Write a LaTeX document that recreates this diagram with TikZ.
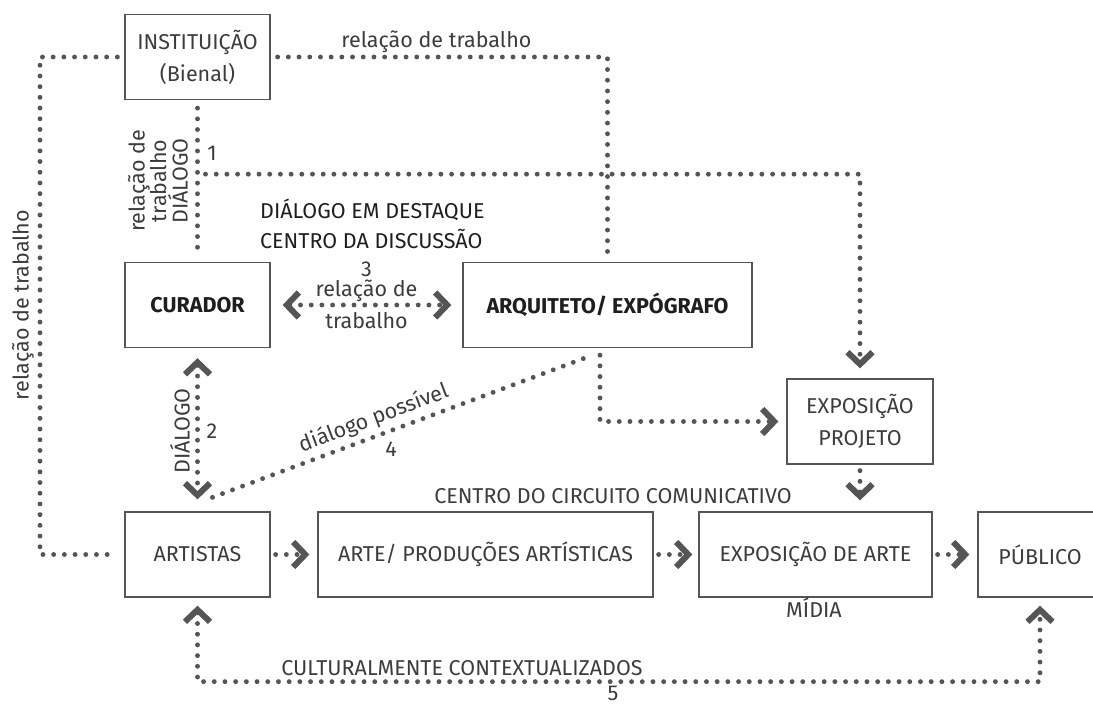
\documentclass[tikz,border=0pt]{standalone}
\usepackage{fontspec}
\setmainfont{Fira Sans}
\usetikzlibrary{arrows.meta, calc, positioning}
\definecolor{linegrey}{HTML}{555555}
\definecolor{textgrey}{HTML}{3C3C3C}
\definecolor{darkgrey}{HTML}{1E1E1E}

\begin{document}
\begin{tikzpicture}[x=1pt, y=-1pt, >={Straight Barb[length=12pt,width=25pt,line width=6pt]}]
        \tikzstyle{box}=[draw=linegrey, line width=1.3pt, minimum height=85pt, inner sep=0pt, text=textgrey, align=center, font=\fontsize{21.5}{32}\selectfont]
        \tikzstyle{boldbox}=[box, text=darkgrey, font=\fontsize{21.5}{24}\selectfont\bfseries]
        \tikzstyle{lbl}=[inner sep=0pt, text=textgrey, font=\fontsize{21.5}{21.5}\selectfont]
        \tikzstyle{dots}=[linegrey, line width=4.9pt, line cap=round, dash pattern=on 0pt off 10.7pt]

        \useasboundingbox (0,0) rectangle (1093,704);

        % Boxes
        \node[box, minimum width=145pt] (inst) at (197.5,57) {INSTITUIÇÃO\\(Bienal)};
        \node[boldbox, minimum width=145pt] (cur) at (197.5,305) {CURADOR};
        \node[boldbox, minimum width=289pt] (arq) at (607.5,305) {ARQUITETO/ EXPÓGRAFO};
        \node[box, minimum width=146pt] (expproj) at (860,421.5) {EXPOSIÇÃO\\PROJETO};
        \node[box, minimum width=145pt] (art) at (197.5,554.5) {ARTISTAS};
        \node[box, minimum width=335pt] (prod) at (485.5,554.5) {ARTE/ PRODUÇÕES ARTÍSTICAS};
        \node[box, minimum width=233pt] (expo) at (815.5,554.5) {EXPOSIÇÃO DE ARTE};
        \node[box, minimum width=124pt] (pub) at (1040,554.5) {PÚBLICO};

        % Institution links
        \coordinate (rail) at (40,57);
        \draw[dots, shorten <=7pt, shorten >=7pt] (inst.west) -- (rail) |- (art.west);
        \node[lbl, rotate=90] (relleft) at (23,305) {relação de trabalho};
        \draw[dots, shorten <=7pt, shorten >=8pt] (inst.east) -| (arq.north)
            node[lbl, pos=0.246, anchor=base, yshift=10pt] (reltop) {relação de trabalho};
        \draw[dots, shorten <=8pt, shorten >=8pt] (inst.south) -- (cur.north);
        \node[lbl, rotate=90, align=center] (relmid) at (158,181) {relação de\\trabalho\\DIÁLOGO};
        \node[lbl, anchor=base] (one) at (212,160) {1};

        % Branch down to the exhibition project
        \coordinate (br) at ([shift={(8,74)}]inst.south);
        \draw[dots, ->, shorten >=10pt] (br) -| (expproj.north);

        % Dialogue in focus
        \node[lbl, anchor=base west, text=darkgrey] (focus) at (260,218) {DIÁLOGO EM DESTAQUE};
        \node[lbl, anchor=base west, text=darkgrey] (centre) at (260,248) {CENTRO DA DISCUSSÃO};

        % Curator and architect
        \draw[dots, <->, shorten <=12pt, shorten >=11pt] (cur) -- (arq)
            node[lbl, pos=0.5, anchor=base, yshift=29pt] (three) {3}
            node[lbl, pos=0.5, anchor=base, yshift=9pt] (relcur) {relação de}
            node[lbl, pos=0.5, anchor=base, yshift=-23pt] (trabcur) {trabalho};
        \draw[dots, <->, shorten <=10pt, shorten >=12pt] (cur) -- (art);
        \node[lbl, rotate=90] (dial) at (180,431) {DIÁLOGO};
        \node[lbl, anchor=base] (two) at (212,438) {2};
        \draw[dots] ([shift={(15,-14)}]art.north) -- ([shift={(-15,7)}]arq.south)
            node[lbl, pos=0.44, sloped, above=4pt] (poss) {diálogo possível}
            node[lbl, pos=0.47, below=9pt] (four) {4};
        \draw[dots, ->, shorten <=7pt, shorten >=8pt] ([xshift=-7.5pt]arq.south) |- (expproj.west);
        \draw[dots, ->, shorten <=6pt, shorten >=11pt] (expproj.south) -- (expproj.south |- expo.north);

        % Communication circuit
        \node[lbl, anchor=base] (circ) at (613,503) {CENTRO DO CIRCUITO COMUNICATIVO};
        \draw[dots, ->, shorten <=5pt, shorten >=8pt] (art) -- (prod);
        \draw[dots, ->, shorten <=5pt, shorten >=6pt] (prod) -- (expo);
        \draw[dots, ->, shorten <=5pt, shorten >=8pt] (expo) -- (pub);
        \node[lbl, anchor=base] (midia) at (814,617) {MÍDIA};

        % Cultural context loop
        \coordinate (loop) at ([yshift=-84pt]art.south);
        \draw[dots, <->, shorten <=8pt, shorten >=8pt] (art.south) -- (loop) -| (pub.south);
        \node[lbl, anchor=base] (cult) at (462,675) {CULTURALMENTE CONTEXTUALIZADOS};
        \node[lbl, anchor=base] (five) at (613,700) {5};
\end{tikzpicture}
\end{document}
